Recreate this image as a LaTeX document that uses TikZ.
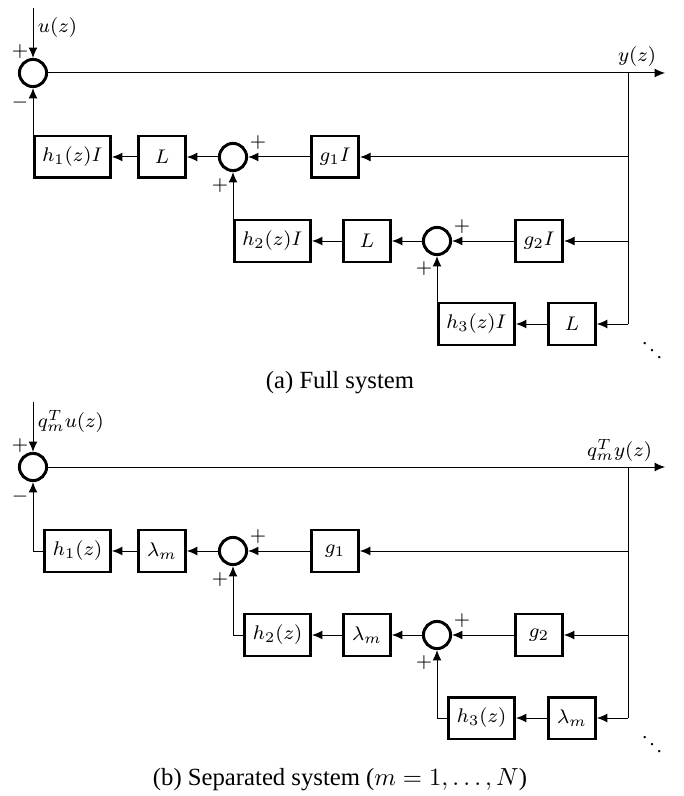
\documentclass[tikz,border=0pt]{standalone}
\usepackage{fontspec}
\setmainfont{Liberation Serif}
\usetikzlibrary{arrows.meta}

\begin{document}
\begin{tikzpicture}[x=0.405pt,y=-0.405pt,
		block/.style={draw,line width=1.2pt,minimum height=17pt,minimum width=19pt,font=\footnotesize},
		sum/.style={draw,circle,line width=1.2pt,minimum size=11pt,inner sep=0pt},
		sig/.style={-{Latex[length=4.2pt,width=3.6pt]}},
		sign/.style={font=\footnotesize,inner sep=0pt},
		lab/.style={font=\footnotesize,inner sep=1pt}]
	\useasboundingbox (0,0) rectangle (683,796);
	
	% (a) full system
	\node[sum] (s0a) at (33,73) {};
	\node[sum] (s1a) at (233,157) {};
	\node[sum] (s2a) at (437,241) {};
	
	\node[block,anchor=east] (h1a) at (112,157) {$h_1(z)I$};
	\node[block] (l1a) at (162,157) {$L$};
	\node[block] (g1a) at (335,157) {$g_1I$};
	\node[block,anchor=east] (h2a) at (312,241) {$h_2(z)I$};
	\node[block] (l2a) at (367,241) {$L$};
	\node[block] (g2a) at (539,241) {$g_2I$};
	\node[block,anchor=east] (h3a) at (516,324) {$h_3(z)I$};
	\node[block] (l3a) at (572,324) {$L$};
	
	\coordinate (ina) at (33,8);
	\coordinate (outa) at (665,73);
	\coordinate (ba) at (628,73);
	\coordinate (b1a) at (628,157);
	\coordinate (b2a) at (628,241);
	\coordinate (b3a) at (628,324);
	
	\node[lab,anchor=base west] (ua) at (35,33) {$u(z)$};
	\node[lab,anchor=base east] (ya) at (659,62) {$y(z)$};
	\node[sign] (p0a) at (20,52) {$+$};
	\node[sign] (m0a) at (20,103) {$-$};
	\node[sign] (p1a) at (258,143) {$+$};
	\node[sign] (q1a) at (220,186) {$+$};
	\node[sign] (p2a) at (462,227) {$+$};
	\node[sign] (q2a) at (424,269) {$+$};
	\node[font=\footnotesize] (da) at (652,343) {$\ddots$};
	
	\draw[sig] (ina) to (s0a);
	\draw[sig] (s0a) to (outa);
	\draw (ba) to (b3a);
	\draw[sig] (b1a) to (g1a);
	\draw[sig] (g1a) to (s1a);
	\draw[sig] (s1a) to (l1a);
	\draw[sig] (l1a) to (h1a);
	\draw[sig] (h1a.west) -| (s0a);
	\draw[sig] (b2a) to (g2a);
	\draw[sig] (g2a) to (s2a);
	\draw[sig] (s2a) to (l2a);
	\draw[sig] (l2a) to (h2a);
	\draw[sig] (h2a.west) -| (s1a);
	\draw[sig] (b3a) to (l3a);
	\draw[sig] (l3a) to (h3a);
	\draw[sig] (h3a.west) -| (s2a);
	
	\node (capa) at (340,383) {(a) Full system};
	
	% (b) separated system
	\node[sum] (s0b) at (33,467) {};
	\node[sum] (s1b) at (233,551) {};
	\node[sum] (s2b) at (437,635) {};
	
	\node[block,anchor=east] (h1b) at (112,551) {$h_1(z)$};
	\node[block] (l1b) at (162,551) {$\lambda_m$};
	\node[block] (g1b) at (335,551) {$g_1$};
	\node[block,anchor=east] (h2b) at (312,635) {$h_2(z)$};
	\node[block] (l2b) at (367,635) {$\lambda_m$};
	\node[block] (g2b) at (539,635) {$g_2$};
	\node[block,anchor=east] (h3b) at (516,718) {$h_3(z)$};
	\node[block] (l3b) at (572,718) {$\lambda_m$};
	
	\coordinate (inb) at (33,402);
	\coordinate (outb) at (665,467);
	\coordinate (bb) at (628,467);
	\coordinate (b1b) at (628,551);
	\coordinate (b2b) at (628,635);
	\coordinate (b3b) at (628,718);
	
	\node[lab,anchor=base west] (ub) at (35,427) {$q_m^Tu(z)$};
	\node[lab,anchor=base east] (yb) at (655,456) {$q_m^Ty(z)$};
	\node[sign] (p0b) at (20,446) {$+$};
	\node[sign] (m0b) at (20,497) {$-$};
	\node[sign] (p1b) at (258,537) {$+$};
	\node[sign] (q1b) at (220,580) {$+$};
	\node[sign] (p2b) at (462,621) {$+$};
	\node[sign] (q2b) at (424,663) {$+$};
	\node[font=\footnotesize] (db) at (652,737) {$\ddots$};
	
	\draw[sig] (inb) to (s0b);
	\draw[sig] (s0b) to (outb);
	\draw (bb) to (b3b);
	\draw[sig] (b1b) to (g1b);
	\draw[sig] (g1b) to (s1b);
	\draw[sig] (s1b) to (l1b);
	\draw[sig] (l1b) to (h1b);
	\draw[sig] (h1b.west) -| (s0b);
	\draw[sig] (b2b) to (g2b);
	\draw[sig] (g2b) to (s2b);
	\draw[sig] (s2b) to (l2b);
	\draw[sig] (l2b) to (h2b);
	\draw[sig] (h2b.west) -| (s1b);
	\draw[sig] (b3b) to (l3b);
	\draw[sig] (l3b) to (h3b);
	\draw[sig] (h3b.west) -| (s2b);
	
	\node (capb) at (340,780) {(b) Separated system ($m=1,\dots,N$)};
\end{tikzpicture}
\end{document}
